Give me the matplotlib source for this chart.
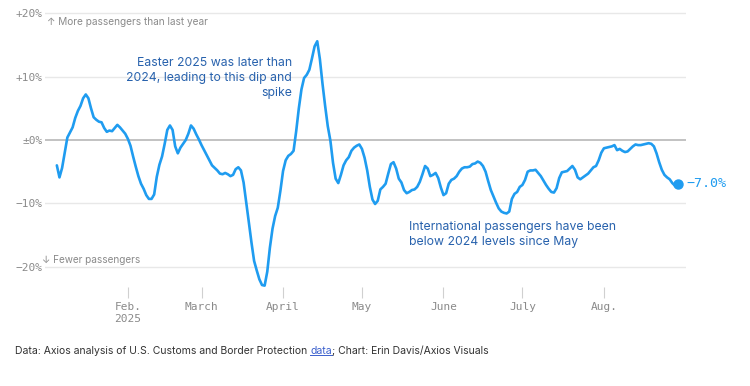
import pandas as pd
import matplotlib
matplotlib.use("Agg")
import matplotlib.pyplot as plt
import matplotlib.dates as mdates
from matplotlib.lines import Line2D

# daily change vs. same day last year, % (starts Jan 5, 2025)
start = "2025-01-05"
change = [
    -4.0, -5.9, -4.4, -2.0, 0.4, 1.2, 2.0, 3.5, 4.6, 5.4, 6.6, 7.2, 6.6, 5.0, 3.6, 3.2,
    2.9, 2.8, 1.9, 1.3, 1.5, 1.4, 1.9, 2.4, 2.0, 1.5, 1.0,
    # Feb
    0.2, -0.9, -2.6, -4.2, -5.7, -6.9, -7.7, -8.7, -9.3, -9.3, -8.6, -5.8, -3.9, -2.6,
    -0.6, 1.6, 2.3, 1.6, -1.0, -2.1, -1.2, -0.6, 0.0, 1.0, 2.3, 1.8, 0.9, 0.1,
    # March
    -0.8, -1.6, -2.4, -3.2, -4.0, -4.4, -4.8, -5.3, -5.4, -5.2, -5.4, -5.7, -5.5, -4.6,
    -4.3, -4.8, -6.7, -9.8, -13.0, -16.2, -19.1, -20.6, -22.0, -22.9, -23.0, -20.8,
    -17.0, -14.0, -12.0, -10.7, -8.0,
    # April
    -4.9, -3.2, -2.5, -2.2, -1.7, 1.4, 5.0, 8.0, 9.8, 10.3, 11.1, 12.9, 14.8, 15.6,
    12.8, 8.9, 5.4, 2.2, -0.1, -3.6, -6.1, -6.8, -5.5, -4.0, -3.2, -2.7, -1.7, -1.2,
    -0.9, -0.7,
    # May
    -1.4, -2.8, -4.8, -7.4, -9.4, -10.1, -9.6, -7.8, -7.4, -6.9, -5.3, -3.8, -3.5,
    -4.5, -6.1, -6.7, -7.9, -8.4, -8.2, -7.9, -7.8, -7.4, -6.6, -5.4, -4.1, -4.5,
    -5.7, -5.5, -5.2, -6.0, -7.5,
    # June
    -8.7, -8.4, -6.9, -6.3, -6.1, -5.7, -5.0, -4.5, -4.3, -4.3, -4.2, -3.8, -3.7,
    -3.4, -3.6, -4.1, -5.0, -6.5, -7.9, -8.9, -9.9, -10.8, -11.3, -11.5, -11.6,
    -11.3, -9.3, -8.5, -8.2, -7.4,
    # July
    -7.1, -6.3, -5.0, -4.8, -4.8, -4.7, -5.2, -5.7, -6.4, -7.1, -7.7, -8.2, -8.3,
    -7.6, -6.0, -5.1, -5.0, -4.9, -4.5, -4.1, -4.7, -5.9, -6.2, -5.9, -5.6, -5.3,
    -4.8, -4.3, -4.1, -3.2, -2.0,
    # August
    -1.3, -1.2, -1.1, -1.0, -0.8, -1.6, -1.4, -1.7, -1.9, -1.8, -1.4, -1.0, -0.7,
    -0.8, -0.8, -0.7, -0.6, -0.5, -0.6, -1.0, -2.1, -3.5, -4.7, -5.5, -5.9, -6.2,
    -6.8, -7.2, -7.0,
]
dates = pd.date_range(start, periods=len(change), freq="D")

tick_dates = ["2025-02-01", "2025-03-01", "2025-04-01", "2025-05-01",
              "2025-06-01", "2025-07-01", "2025-08-01"]
tick_labels = ["Feb.\n2025", "March", "April", "May", "June", "July", "Aug."]
y_ticks = [20, 10, 0, -10, -20]
y_labels = ["+20%", "+10%", "±0%", "−10%", "−20%"]

W, H = 750, 386
LINE = "#1f9cf0"
NOTE = "#2862ad"
GRAY = "#8a8a8a"
mono = "DejaVu Sans Mono"
sans = ["Inter", "DejaVu Sans"]

def px(x, y):
    return x / W, 1 - y / H

fig = plt.figure(figsize=(W / 100, H / 100), dpi=100)
ax = fig.add_axes([45 / W, 1 - 298.3 / H, (686 - 45) / W, (298.3 - 7.1) / H])

for v in y_ticks:
    if v == 0:
        ax.axhline(v, color="#bdbdbd", lw=1.3, zorder=1)
    else:
        ax.axhline(v, color="#e8e8e8", lw=1.0, zorder=1)

ax.plot(dates, change, color=LINE, lw=1.9, solid_capstyle="round", zorder=3)
ax.plot(dates[-1], change[-1], "o", color=LINE, ms=6.5, zorder=4)

ax.set_ylim(-25, 21)
ax.set_xlim(mdates.date2num(dates[0]) - 4.5, mdates.date2num(dates[-1]) + 3.2)

ax.set_yticks(y_ticks)
ax.set_yticklabels(y_labels, family=mono, fontsize=8, color=GRAY)
ax.tick_params(axis="y", length=0, pad=1.5)

ax.set_xticks(pd.to_datetime(tick_dates))
ax.set_xticklabels(tick_labels, family=mono, fontsize=8, color=GRAY, linespacing=1.25)
ax.tick_params(axis="x", direction="in", length=8, width=0.8, color="#d0d0d0", pad=3)

for s in ax.spines.values():
    s.set_visible(False)

fig.text(*px(47, 22), "↑ More passengers than last year", family=sans, fontsize=7.25,
         color=GRAY, va="center", ha="left")
fig.text(*px(42, 260), "↓ Fewer passengers", family=sans, fontsize=7.2,
         color=GRAY, va="center", ha="left")
fig.text(*px(292, 78), "Easter 2025 was later than\n2024, leading to this dip and\nspike",
         family=sans, fontsize=8.8, color=NOTE, va="center", ha="right",
         multialignment="right", linespacing=1.28)
fig.text(*px(409, 234.5), "International passengers have been\nbelow 2024 levels since May",
         family=sans, fontsize=8.8, color=NOTE, va="center", ha="left", linespacing=1.28)
fig.text(*px(686, 184), "−7.0%", family=mono, fontsize=9.6, color=LINE,
         va="center", ha="left")

# footer with underlined link word
renderer = fig.canvas.get_renderer()
parts = [("Data: Axios analysis of U.S. Customs and Border Protection ", "#333333"),
         ("data", "#3a5fcd"),
         ("; Chart: Erin Davis/Axios Visuals", "#333333")]
x0, y0 = px(15, 351)
for txt, col in parts:
    t = fig.text(x0, y0, txt, family=sans, fontsize=7.5, color=col, va="center", ha="left")
    bb = t.get_window_extent(renderer)
    if txt == "data":
        yu = (bb.y0 + 1) / H
        fig.add_artist(Line2D([bb.x0 / W, bb.x1 / W], [yu, yu], color=col, lw=0.7))
    x0 = bb.x1 / W

fig.savefig("out.png", dpi=100)
